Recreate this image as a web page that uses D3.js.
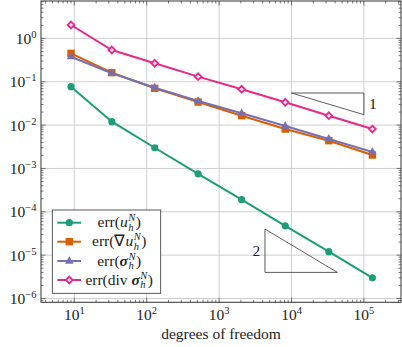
<!DOCTYPE html>
<html><head><meta charset="utf-8">
<script src="https://cdn.jsdelivr.net/npm/d3@7"></script>
<style>
html,body{margin:0;padding:0;background:#fff;}
svg{display:block;}
text{font-family:"Liberation Serif","Times New Roman",serif;fill:#222;}
</style></head>
<body><div id="chart"></div>
<script>
const dofs = [9, 33, 129, 513, 2049, 8193, 32769, 131073];
const errU = [0.077, 0.012, 0.003, 7.5e-4, 1.9e-4, 4.75e-5, 1.2e-5, 3.0e-6];
const errGradU = [0.453, 0.162, 0.0706, 0.034, 0.0165, 0.0081, 0.00437, 0.00204];
const errSigma = [0.378, 0.157, 0.073, 0.036, 0.0187, 0.0095, 0.0048, 0.0024];
const errDivSigma = [2.04, 0.54, 0.267, 0.131, 0.067, 0.0336, 0.0165, 0.0081];
const xTickValues = [1e1, 1e2, 1e3, 1e4, 1e5];
const xTickExps = ["1", "2", "3", "4", "5"];
const yTickValues = [1e0, 1e-1, 1e-2, 1e-3, 1e-4, 1e-5, 1e-6];
const yTickExps = ["0", "−1", "−2", "−3", "−4", "−5", "−6"];
const xLabel = "degrees of freedom";
// slope triangles: [x0, x1, yTop, yBottom]
const triSlope1 = [1e4, 1e5, 0.055, 0.0174];
const triSlope2 = [4300, 43000, 4.0e-5, 4.0e-6];
const triLabels = ["1", "2"];

const W = 402, H = 347;
const L = 41, R = 401, T = 1, B = 302.3;
const svg = d3.select("#chart").append("svg").attr("width", W).attr("height", H);

const x = d3.scaleLog().domain([Math.pow(10, 0.54), Math.pow(10, 1 + (R - 74.3) / 72.4)]).range([L, R]);
const y = d3.scaleLog().domain([Math.pow(10, -(B - 38.4) / 43.35), Math.pow(10, (38.4 - T) / 43.35)]).range([B, T]);

// grid
const gridC = "#cfcfcf";
svg.append("g").selectAll("line").data(xTickValues).join("line")
  .attr("x1", d => x(d)).attr("x2", d => x(d)).attr("y1", T).attr("y2", B)
  .attr("stroke", gridC).attr("stroke-width", 1);
svg.append("g").selectAll("line").data(yTickValues).join("line")
  .attr("y1", d => y(d)).attr("y2", d => y(d)).attr("x1", L).attr("x2", R)
  .attr("stroke", gridC).attr("stroke-width", 1);

// ticks (inside, all four sides)
function minorTicks(scale) {
  const [a, b] = scale.domain();
  const out = [];
  for (let e = Math.floor(Math.log10(Math.min(a, b))); e <= Math.ceil(Math.log10(Math.max(a, b))); e++) {
    for (let m = 1; m <= 9; m++) {
      const v = m * Math.pow(10, e);
      if (v >= Math.min(a, b) && v <= Math.max(a, b)) out.push({v, major: m === 1});
    }
  }
  return out;
}
const tickC = "#555";
const tg = svg.append("g").attr("stroke", tickC).attr("stroke-width", 0.8);
minorTicks(x).forEach(t => {
  const len = t.major ? 4.5 : 2.5, px = x(t.v);
  tg.append("line").attr("x1", px).attr("x2", px).attr("y1", B).attr("y2", B - len);
  tg.append("line").attr("x1", px).attr("x2", px).attr("y1", T).attr("y2", T + len);
});
minorTicks(y).forEach(t => {
  const len = t.major ? 4.5 : 2.5, py = y(t.v);
  tg.append("line").attr("y1", py).attr("y2", py).attr("x1", L).attr("x2", L + len);
  tg.append("line").attr("y1", py).attr("y2", py).attr("x1", R).attr("x2", R - len);
});

// frame
svg.append("rect").attr("x", L).attr("y", T).attr("width", R - L).attr("height", B - T)
  .attr("fill", "none").attr("stroke", "#333").attr("stroke-width", 1);

// tick labels
const FS = 15.5, SFS = 10.5;
xTickValues.forEach((v, i) => {
  const t = svg.append("text").attr("x", x(v)).attr("y", 320).attr("text-anchor", "middle").attr("font-size", FS);
  t.append("tspan").text("10");
  t.append("tspan").attr("dy", -6).attr("font-size", SFS).text(xTickExps[i]);
});
yTickValues.forEach((v, i) => {
  const t = svg.append("text").attr("x", 36.5).attr("y", y(v) + 5.5).attr("text-anchor", "end").attr("font-size", FS);
  t.append("tspan").text("10");
  t.append("tspan").attr("dy", -6).attr("font-size", SFS).text(yTickExps[i]);
});
svg.append("text").attr("x", 221).attr("y", 339).attr("text-anchor", "middle").attr("font-size", FS).text(xLabel);

// slope triangles
const triC = "#333";
function tri(tr, vertLeft) {
  const [x0, x1, yt, yb] = tr;
  let pts;
  if (vertLeft) pts = [[x0, yt], [x0, yb], [x1, yb]];
  else pts = [[x0, yt], [x1, yt], [x1, yb]];
  svg.append("path").attr("d", "M" + pts.map(p => [x(p[0]), y(p[1])].join(",")).join("L") + "Z")
    .attr("fill", "none").attr("stroke", triC).attr("stroke-width", 0.8);
}
tri(triSlope1, false);
tri(triSlope2, true);
svg.append("text").attr("x", x(triSlope1[1]) + 9).attr("y", (y(triSlope1[2]) + y(triSlope1[3])) / 2 + 5)
  .attr("text-anchor", "middle").attr("font-size", FS).text(triLabels[0]);
svg.append("text").attr("x", x(triSlope2[0]) - 8.5).attr("y", (y(triSlope2[2]) + y(triSlope2[3])) / 2 + 5)
  .attr("text-anchor", "middle").attr("font-size", FS).text(triLabels[1]);

// series
const colors = ["#1b9e77", "#d95f02", "#7570b3", "#e7298a"];
const seriesData = [errU, errGradU, errSigma, errDivSigma];
const markers = ["circle", "square", "triangle", "diamond"];

function drawMarker(g, type, cx, cy, color) {
  if (type === "circle") {
    g.append("circle").attr("cx", cx).attr("cy", cy).attr("r", 3.6).attr("fill", color);
  } else if (type === "square") {
    g.append("rect").attr("x", cx - 3.7).attr("y", cy - 3.7).attr("width", 7.4).attr("height", 7.4).attr("fill", color);
  } else if (type === "triangle") {
    const r = 4.8;
    g.append("path").attr("d", `M${cx},${cy - r}L${cx + r * 0.9},${cy + r * 0.55}L${cx - r * 0.9},${cy + r * 0.55}Z`).attr("fill", color);
  } else {
    const r = 3.4;
    g.append("path").attr("d", `M${cx},${cy - r}L${cx + r},${cy}L${cx},${cy + r}L${cx - r},${cy}Z`)
      .attr("fill", "#fbe3ef").attr("stroke", color).attr("stroke-width", 1.8);
  }
}

const line = d3.line().x(d => x(d[0])).y(d => y(d[1]));
seriesData.forEach((vals, i) => {
  const pts = dofs.map((d, j) => [d, vals[j]]);
  const g = svg.append("g");
  g.append("path").attr("d", line(pts)).attr("fill", "none").attr("stroke", colors[i]).attr("stroke-width", 2);
  pts.forEach(p => drawMarker(g, markers[i], x(p[0]), y(p[1]), colors[i]));
});

// legend
const lg = svg.append("g");
lg.append("rect").attr("x", 52.3).attr("y", 210).attr("width", 108.4).attr("height", 83.3)
  .attr("fill", "#fff").attr("stroke", "#333").attr("stroke-width", 0.8);
const legendRows = [222.7, 241.7, 261, 280];
const legendParts = [
  [{t: "err(", s: "rm"}, {t: "u", s: "it", sup: "N", sub: "h"}, {t: ")", s: "rm"}],
  [{t: "err(∇", s: "rm"}, {t: "u", s: "it", sup: "N", sub: "h"}, {t: ")", s: "rm"}],
  [{t: "err(", s: "rm"}, {t: "σ", s: "bfit", sup: "N", sub: "h"}, {t: ")", s: "rm"}],
  [{t: "err(div ", s: "rm"}, {t: "σ", s: "bfit", sup: "N", sub: "h"}, {t: ")", s: "rm"}]
];
function styleText(t, s, fs) {
  t.attr("font-size", fs);
  if (s === "it") t.attr("font-style", "italic");
  if (s === "bfit") t.attr("font-style", "italic").attr("font-weight", "bold");
  return t;
}
function mathText(g, cx, by, parts) {
  const grp = g.append("g");
  let cur = 0;
  parts.forEach(p => {
    const t = styleText(grp.append("text").attr("x", cur).attr("y", by).attr("xml:space", "preserve").style("white-space", "pre").text(p.t), p.s, FS);
    cur += t.node().getComputedTextLength();
    if (p.sup) {
      const a = styleText(grp.append("text").attr("x", cur + 0.5).attr("y", by - 6).text(p.sup), "it", SFS);
      const b = styleText(grp.append("text").attr("x", cur + 0.5).attr("y", by + 3.5).text(p.sub), "it", SFS);
      cur += Math.max(a.node().getComputedTextLength(), b.node().getComputedTextLength()) + 1;
    }
  });
  grp.attr("transform", `translate(${cx - cur / 2},0)`);
}
legendRows.forEach((ry, i) => {
  lg.append("line").attr("x1", 57.3).attr("x2", 81).attr("y1", ry).attr("y2", ry)
    .attr("stroke", colors[i]).attr("stroke-width", 2);
  drawMarker(lg, markers[i], 69.3, ry, colors[i]);
  mathText(lg, 119.2, ry + 4.5, legendParts[i]);
});
</script></body></html>
